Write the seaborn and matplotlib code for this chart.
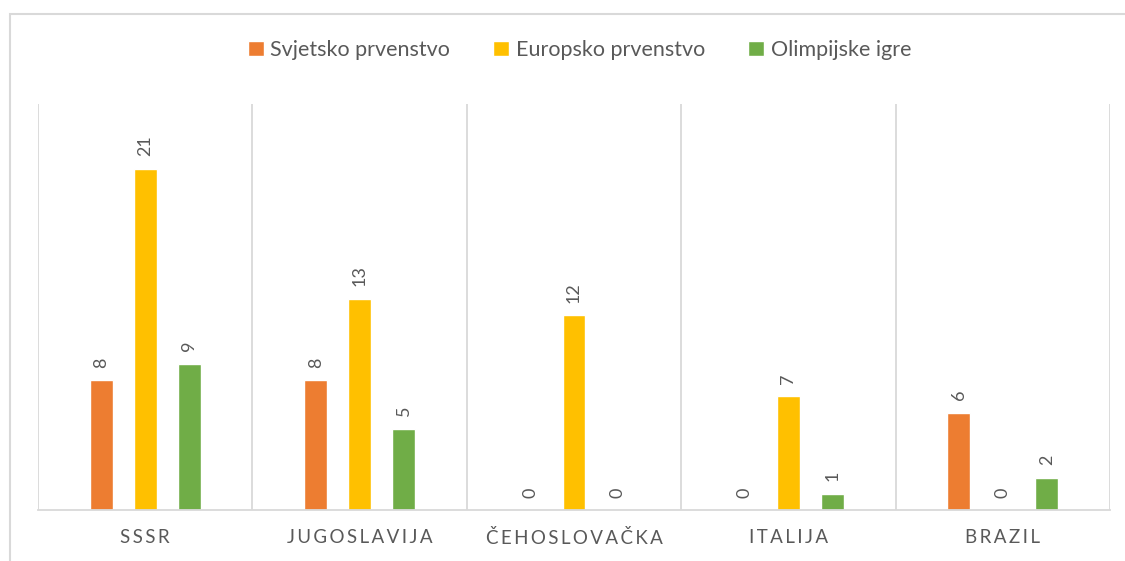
import matplotlib

matplotlib.use("Agg")

import matplotlib.pyplot as plt
import pandas as pd
import seaborn as sns
from matplotlib.patches import Rectangle

COUNTRIES = ["SSSR", "JUGOSLAVIJA", "ČEHOSLOVAČKA", "ITALIJA", "BRAZIL"]
SERIES = ["Svjetsko prvenstvo", "Europsko prvenstvo", "Olimpijske igre"]
SVJETSKO = [8, 8, 0, 0, 6]
EUROPSKO = [21, 13, 12, 7, 0]
OLIMPIJSKE = [9, 5, 0, 1, 2]
COLORS = ["#ED7D31", "#FFC000", "#70AD47"]
GRID = "#D9D9D9"
TEXT = "#595959"


def spaced(label: str) -> str:
    # Excel-style letter spacing on the category labels
    return "\u2009".join(label)


def main() -> None:
    rows = []
    for name, values in zip(SERIES, [SVJETSKO, EUROPSKO, OLIMPIJSKE]):
        for country, value in zip(COUNTRIES, values):
            rows.append({"country": country, "series": name, "value": value})
    df = pd.DataFrame(rows)

    sns.set_theme(style="white")
    plt.rcParams["font.family"] = ["Lato", "DejaVu Sans"]

    fig = plt.figure(figsize=(11.25, 5.61), dpi=100)
    ax = fig.add_axes([38 / 1125, 1 - 510 / 561, (1110 - 38) / 1125, (510 - 104) / 561])

    sns.barplot(
        data=df,
        x="country",
        y="value",
        hue="series",
        hue_order=SERIES,
        order=COUNTRIES,
        palette=COLORS,
        saturation=1,
        width=0.615,
        gap=0.477,
        ax=ax,
        legend=True,
    )

    for container in ax.containers:
        ax.bar_label(container, rotation=90, padding=9, color=TEXT, fontsize=13)

    ax.set_ylim(0, 25)
    ax.set_xlim(-0.5, len(COUNTRIES) - 0.5)
    ax.set_yticks([])
    ax.set_xlabel("")
    ax.set_ylabel("")
    ax.set_xticks(range(len(COUNTRIES)))
    ax.set_xticklabels([spaced(c) for c in COUNTRIES], color=TEXT, fontsize=13.5)
    ax.tick_params(axis="x", length=0, pad=14)

    for side in ["top", "left", "right"]:
        ax.spines[side].set_visible(False)
    ax.spines["bottom"].set_color(GRID)
    ax.spines["bottom"].set_linewidth(1.3)
    for i in range(len(COUNTRIES) + 1):
        ax.axvline(i - 0.5, color=GRID, linewidth=1.3, zorder=0)

    handles, labels = ax.get_legend_handles_labels()
    ax.get_legend().remove()
    fig.legend(
        handles,
        labels,
        loc="center",
        bbox_to_anchor=(0.515, 1 - 50 / 561),
        ncol=3,
        frameon=False,
        fontsize=15.5,
        labelcolor=TEXT,
        handlelength=0.75,
        handleheight=0.75,
        handletextpad=0.3,
        columnspacing=2.0,
    )

    fig.patches.append(
        Rectangle(
            (10 / 1125, -0.05),
            1.2,
            1.05 - 14 / 561,
            transform=fig.transFigure,
            fill=False,
            edgecolor=GRID,
            linewidth=1.5,
        )
    )

    fig.savefig("out.png", dpi=100)
    plt.close(fig)


if __name__ == "__main__":
    main()
